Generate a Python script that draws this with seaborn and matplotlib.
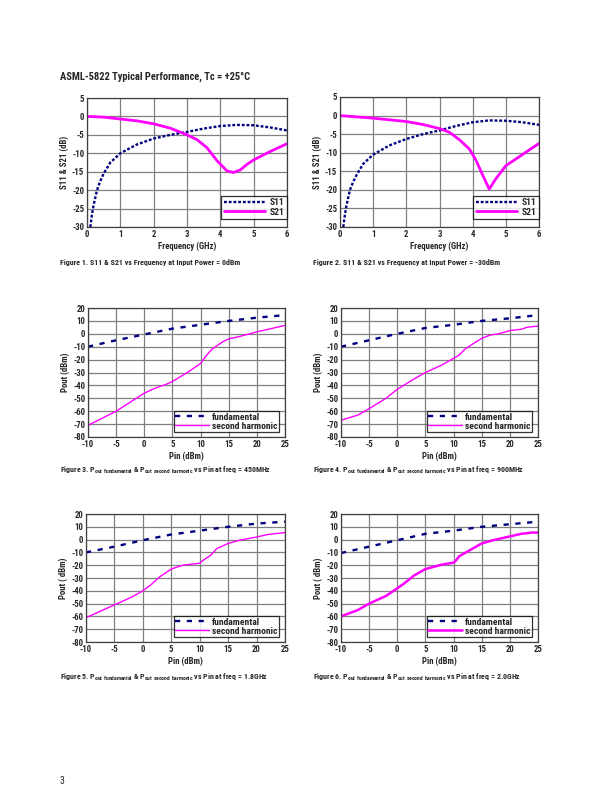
import matplotlib
matplotlib.use("Agg")
import matplotlib.pyplot as plt
import seaborn as sns

# Figure 1 / 2 : S-parameters vs frequency
freq_s11_1 = [0.1, 0.15, 0.2, 0.3, 0.4, 0.5, 0.7, 1.0, 1.5, 2.0, 2.5, 3.0, 3.5, 4.0, 4.5, 5.0, 5.5, 6.0]
s11_1 = [-30, -26.5, -24, -20, -17.5, -15.5, -12.5, -10, -7.6, -6, -5, -4.2, -3.3, -2.6, -2.3, -2.4, -3, -3.8]
freq_s21_1 = [0, 0.5, 1.0, 1.5, 2.0, 2.5, 3.0, 3.3, 3.6, 3.9, 4.2, 4.4, 4.6, 4.8, 5.0, 5.5, 6.0]
s21_1 = [0, -0.2, -0.7, -1.2, -2, -3.2, -5, -6.3, -8.5, -12, -14.8, -15.2, -14.5, -13, -11.8, -9.5, -7.4]

freq_s11_2 = [0.1, 0.15, 0.2, 0.3, 0.4, 0.5, 0.7, 1.0, 1.5, 2.0, 2.5, 3.0, 3.5, 4.0, 4.5, 5.0, 5.5, 6.0]
s11_2 = [-30, -26.5, -24, -20, -17.8, -16, -13, -10.5, -8, -6.3, -5, -4, -2.8, -1.8, -1.3, -1.4, -1.8, -2.5]
freq_s21_2 = [0, 1.0, 2.0, 2.5, 3.0, 3.3, 3.6, 3.9, 4.1, 4.3, 4.5, 4.7, 5.0, 5.5, 6.0]
s21_2 = [0, -0.7, -1.6, -2.4, -3.5, -4.5, -6.5, -9, -12, -16, -19.8, -17, -13.5, -10.5, -7.5]

# Figure 3-6 : Pout vs Pin
pin_fund = [-10, -5, 0, 5, 10, 15, 20, 25]
fund_450 = [-10, -5, -0.5, 4, 7, 10, 12.5, 14.5]
fund_900 = [-10, -5, 0, 4.5, 7, 10, 12, 14.5]
fund_1800 = [-10, -5.5, -0.5, 4, 7, 10, 12.5, 14]
fund_2000 = [-10.5, -5.5, -0.5, 4.5, 7, 10, 12, 14]

pin_h2_450 = [-10, -5, 0, 2, 4, 5, 8, 10, 11, 12, 14, 15, 17, 20, 22, 25]
h2_450 = [-71, -60, -46, -42, -39, -37, -29, -23, -17, -12, -6, -4, -2, 1.5, 3.5, 6.5]
pin_h2_900 = [-10, -7, -5, -2, 0, 3, 5, 8, 10, 11, 12, 13, 15, 16.5, 18, 20, 22, 23, 25]
h2_900 = [-67, -63, -58, -50, -43, -35, -30, -24, -19, -16.5, -12, -9, -3.5, -1, 0, 2.5, 3.5, 5, 6]
pin_h2_1800 = [-10, -5, -2, 0, 1.5, 3, 5, 7, 8, 10, 10.5, 12, 13, 15, 17, 20, 22, 25]
h2_1800 = [-61, -51, -45, -40, -35, -29, -23, -20, -19.5, -18.5, -16.5, -12, -7, -3, -0.5, 2, 4, 5.5]
pin_h2_2000 = [-10, -7, -5, -2, 0, 1, 3, 5, 8, 10, 10.5, 11, 13, 15, 17, 20, 22, 24, 25]
h2_2000 = [-60, -55, -50, -44, -38, -35, -28, -23, -19.5, -18, -16, -13, -8, -3, -0.5, 2.5, 4.5, 5.5, 5.5]

NAVY = "#000080"
MAGENTA = "#ff00ff"

sns.set_style("whitegrid")
plt.rcParams["font.family"] = ["Roboto Condensed", "DejaVu Sans"]
plt.rcParams["font.weight"] = "bold"
plt.rcParams["axes.unicode_minus"] = False
plt.rcParams["mathtext.fontset"] = "custom"
plt.rcParams["mathtext.rm"] = "Roboto Condensed:bold"
plt.rcParams["mathtext.bf"] = "Roboto Condensed:bold"

W, H = 612, 792
fig = plt.figure(figsize=(6.12, 7.92), dpi=100)


def ax_at(l, t, r, b):
    return fig.add_axes([l / W, 1 - b / H, (r - l) / W, (b - t) / H])


def style(ax, xlim, ylim, xticks, yticks, xlabel, ylabel):
    ax.set_xlim(*xlim)
    ax.set_ylim(*ylim)
    ax.set_xticks(xticks)
    ax.set_yticks(yticks)
    ax.grid(True, color="#808080", linewidth=0.9)
    for s in ax.spines.values():
        s.set_color("#404040")
        s.set_linewidth(0.9)
    ax.tick_params(labelsize=6.3, length=0, pad=2)
    for lab in ax.get_xticklabels() + ax.get_yticklabels():
        lab.set_fontweight("bold")
    ax.set_xlabel(xlabel, fontsize=6.3, fontweight="bold", labelpad=2)
    ax.set_ylabel(ylabel, fontsize=6.3, fontweight="bold", labelpad=2)


def sparam(ax, fx, s11, fy, s21):
    sns.lineplot(x=fx, y=s11, ax=ax, color=NAVY, lw=1.7, linestyle=(0, (1.2, 0.8)), label="S11")
    sns.lineplot(x=fy, y=s21, ax=ax, color=MAGENTA, lw=2, label="S21")
    style(ax, (0, 6), (-30, 5), range(0, 7), range(-30, 6, 5), "Frequency (GHz)", "S11 & S21 (dB)")
    leg = ax.legend(loc="lower right", bbox_to_anchor=(1, 8 / 129), fontsize=6.8, frameon=True,
                    fancybox=False, handlelength=4.4, borderaxespad=0, borderpad=0.25,
                    labelspacing=0.05, handletextpad=0.5)
    leg.get_frame().set_edgecolor("black")
    leg.get_frame().set_linewidth(0.9)


def power(ax, fund, px, h2, ylabel, lw2=1.0):
    sns.lineplot(x=pin_fund, y=fund, ax=ax, color=NAVY, lw=1.7, linestyle=(0, (2.2, 2.8)), label="fundamental")
    sns.lineplot(x=px, y=h2, ax=ax, color=MAGENTA, lw=lw2, label="second harmonic")
    style(ax, (-10, 25), (-80, 20), range(-10, 26, 5), range(-80, 21, 10), "Pin (dBm)", ylabel)
    leg = ax.legend(loc="lower right", bbox_to_anchor=(1 - 6 / 197, 5 / 129), fontsize=6.8,
                    frameon=True, fancybox=False, handlelength=3.6, borderaxespad=0,
                    borderpad=0.15, labelspacing=0.0, handletextpad=0.3)
    leg.get_frame().set_edgecolor("black")
    leg.get_frame().set_linewidth(0.9)


ax1 = ax_at(87, 98, 287, 227)
sparam(ax1, freq_s11_1, s11_1, freq_s21_1, s21_1)
ax2 = ax_at(340, 97, 539, 227)
sparam(ax2, freq_s11_2, s11_2, freq_s21_2, s21_2)

ax3 = ax_at(88, 308, 285, 437)
power(ax3, fund_450, pin_h2_450, h2_450, "Pout (dBm)")
ax4 = ax_at(341, 308, 538, 437)
power(ax4, fund_900, pin_h2_900, h2_900, "Pout (dBm)")
ax5 = ax_at(86, 514, 285, 642)
power(ax5, fund_1800, pin_h2_1800, h2_1800, "Pout ( dBm)")
ax6 = ax_at(341, 514, 538, 642)
power(ax6, fund_2000, pin_h2_2000, h2_2000, "Pout ( dBm)", lw2=1.8)

fig.text(60 / W, 1 - 77 / H, "ASML-5822 Typical Performance, Tc = +25°C", fontsize=7.6,
         fontweight="bold", va="center", ha="left")

fig.text(60 / W, 1 - 263 / H, "Figure 1. S11 & S21 vs Frequency at Input Power = 0dBm",
         fontsize=5.7, fontweight="bold", va="center")
fig.text(313 / W, 1 - 263 / H, "Figure 2. S11 & S21 vs Frequency at Input Power = -30dBm",
         fontsize=5.7, fontweight="bold", va="center")

sub = r"P$_{\mathbf{out\ fundamental}}$ & P$_{\mathbf{out\ second\ harmonic}}$ vs Pin at freq = "
for x, y, n, f in [(60, 470, 3, "450MHz"), (313, 470, 4, "900MHz"),
                   (60, 677, 5, "1.8GHz"), (313, 677, 6, "2.0GHz")]:
    fig.text(x / W, 1 - y / H, f"Figure {n}. " + sub + f, fontsize=5.7, fontweight="bold", va="center")

fig.text(60 / W, 1 - 781 / H, "3", fontsize=7, fontweight="normal", va="center")

fig.savefig("out.png", dpi=100)
